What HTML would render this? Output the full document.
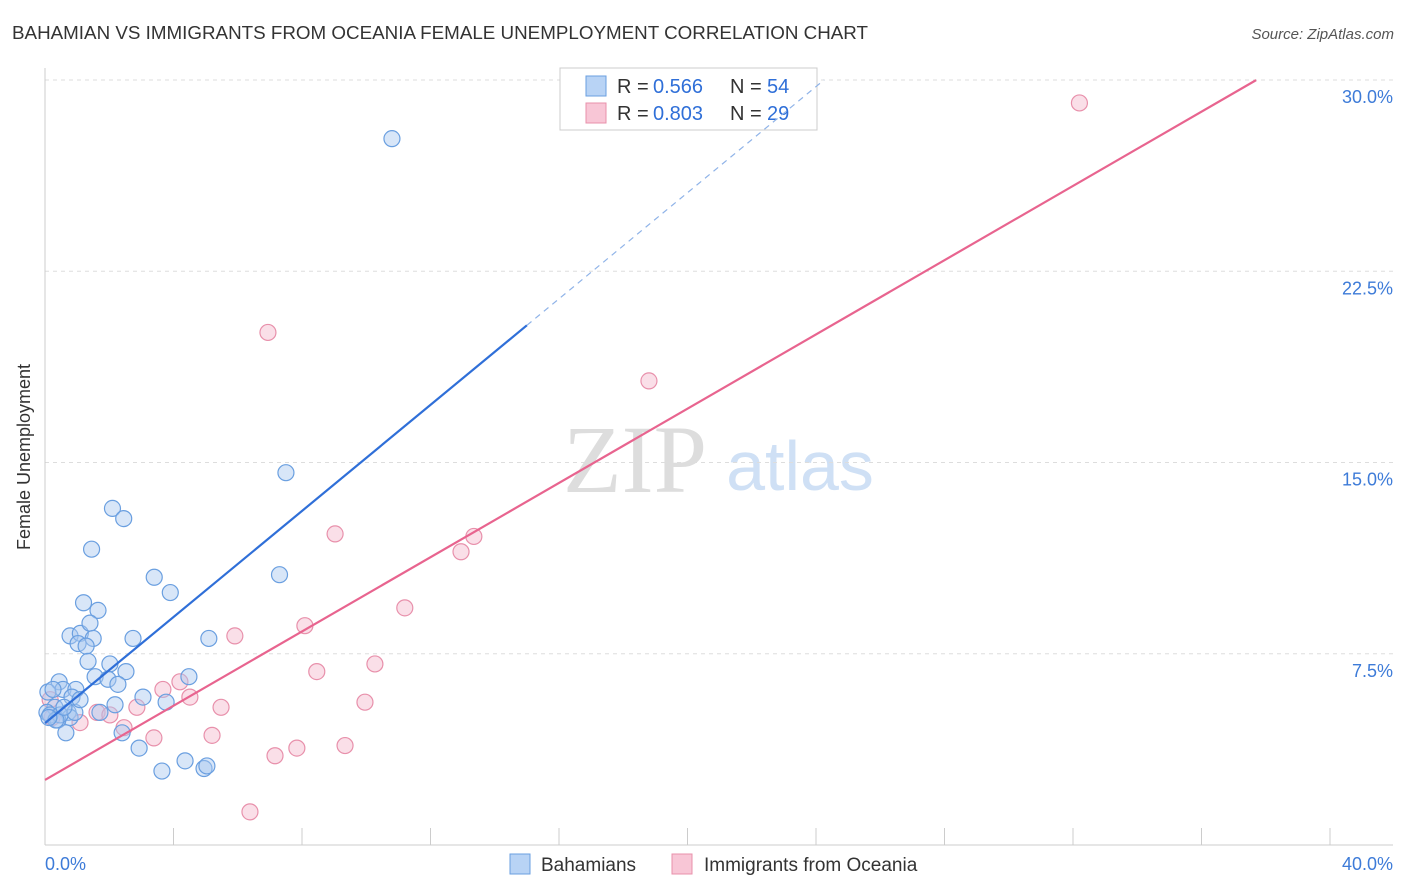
<!DOCTYPE html>
<html><head><meta charset="utf-8"><style>
body{margin:0;background:#fff;font-family:"Liberation Sans",sans-serif;}
#wrap{position:relative;width:1406px;height:892px;overflow:hidden;}
</style></head><body>
<div id="wrap">
<svg id="svg" width="1406" height="892" xmlns="http://www.w3.org/2000/svg">
<text x="12" y="39" font-size="18" fill="#333" textLength="856" lengthAdjust="spacingAndGlyphs">BAHAMIAN VS IMMIGRANTS FROM OCEANIA FEMALE UNEMPLOYMENT CORRELATION CHART</text>
<text x="1394" y="39" font-size="15" fill="#555" text-anchor="end" font-style="italic">Source: ZipAtlas.com</text>
<text x="30" y="457" font-size="18" fill="#333" text-anchor="middle" transform="rotate(-90 30 457)">Female Unemployment</text>
<text x="635" y="492" font-size="96" fill="#ddd" text-anchor="middle" font-family="Liberation Serif,serif">ZIP</text>
<text x="800" y="490" font-size="70" fill="#cfe0f5" text-anchor="middle">atlas</text>
<g id="grid"></g>
<g>
<rect x="560" y="68" width="257" height="62" fill="#fff" stroke="#ccc"/>
<rect x="586" y="76" width="20" height="20" fill="#b8d3f5" stroke="#6a9fe0"/>
<text x="617" y="93" font-size="20" fill="#333">R = </text><text x="653" y="93" font-size="20" fill="#2f6fd8">0.566</text>
<text x="730" y="93" font-size="20" fill="#333">N = </text><text x="767" y="93" font-size="20" fill="#2f6fd8">54</text>
<rect x="586" y="103" width="20" height="20" fill="#f8c6d6" stroke="#e890ab"/>
<text x="617" y="120" font-size="20" fill="#333">R = </text><text x="653" y="120" font-size="20" fill="#2f6fd8">0.803</text>
<text x="730" y="120" font-size="20" fill="#333">N = </text><text x="767" y="120" font-size="20" fill="#2f6fd8">29</text>
</g>
<g id="marks"></g>
<g>
<rect x="510" y="854" width="20" height="20" fill="#b8d3f5" stroke="#6a9fe0"/>
<text x="541" y="871" font-size="19" fill="#333">Bahamians</text>
<rect x="672" y="854" width="20" height="20" fill="#f8c6d6" stroke="#e890ab"/>
<text x="704" y="871" font-size="19" fill="#333">Immigrants from Oceania</text>
</g>
</svg></div>
<script>
const xTicks=[0,40];
const yTicks=[7.5,15,22.5,30];
const blueX=[10.8,7.5,2.1,2.45,1.45,3.4,7.3,3.9,1.2,1.65,0.78,1.1,1.4,1.5,2.74,5.1,1.03,1.28,1.34,2.02,2.52,1.56,4.48,1.96,0.44,0.56,0.96,0.09,2.27,3.05,3.77,2.18,0.31,0.72,0.06,0.16,0.78,0.4,0.47,0.93,2.4,0.65,2.93,3.64,4.36,4.95,5.04,0.25,0.84,1.71,0.34,0.59,0.12,1.09];
const blueY=[27.7,14.6,13.2,12.8,11.6,10.5,10.6,9.9,9.5,9.2,8.2,8.3,8.7,8.1,8.1,8.1,7.9,7.8,7.2,7.1,6.8,6.6,6.6,6.5,6.4,6.1,6.1,6.0,6.3,5.8,5.6,5.5,5.4,5.2,5.2,5.1,5.0,4.9,5.1,5.2,4.4,4.4,3.8,2.9,3.3,3.0,3.1,6.1,5.8,5.2,4.9,5.4,5.0,5.7];
const pinkX=[32.2,6.94,18.8,9.03,13.35,12.95,11.2,8.09,5.91,10.27,8.46,4.2,3.67,4.51,5.48,2.86,9.96,1.62,2.02,2.46,1.09,0.22,5.2,3.39,9.34,7.84,7.16,6.38,0.16];
const pinkY=[29.1,20.1,18.2,12.2,12.1,11.5,9.3,8.6,8.2,7.1,6.8,6.4,6.1,5.8,5.4,5.4,5.6,5.2,5.1,4.6,4.8,5.0,4.3,4.2,3.9,3.8,3.5,1.3,5.7];
const blueLine=[4.78,1.04,15.0];
const pinkLine=[2.55,0.728,37.7];
const X0=45,X1=1330,Y0=845,YT=80;
const sx=v=>X0+(v/40)*(X1-X0);
const sy=v=>Y0-(v/30)*(Y0-YT);
const NS="http://www.w3.org/2000/svg";
function mk(p,t,a){const e=document.createElementNS(NS,t);for(const k in a)e.setAttribute(k,a[k]);p.appendChild(e);return e;}
const grid=document.getElementById('grid'),marks=document.getElementById('marks');
yTicks.forEach(v=>{
 const l=mk(grid,'line',{x1:X0,x2:1393,y1:sy(v),y2:sy(v),stroke:'#ddd','stroke-dasharray':'4,4'});
 
 
 const t=mk(grid,'text',{x:1393,y:sy(v)+23,'font-size':18,fill:'#3d7bd8','text-anchor':'end'});t.textContent=v.toFixed(1)+'%';
 
 
});
mk(grid,'line',{x1:X0,x2:X0,y1:68,y2:Y0,stroke:'#ccc'});
mk(grid,'line',{x1:X0,x2:1393,y1:Y0,y2:Y0,stroke:'#ccc'});
for(let i=0;i<=10;i++){const x=sx(i*4);mk(grid,'line',{x1:x,x2:x,y1:828,y2:Y0,stroke:'#ccc'});}
xTicks.forEach((v,i)=>{const t=mk(grid,'text',{x:i?1393:45,y:870,'font-size':18,fill:'#3d7bd8','text-anchor':i?'end':'start'});t.textContent=v.toFixed(1)+'%';
 
 });
function dots(xs,ys,fill,stroke,name){xs.forEach((x,i)=>{const c=mk(marks,'circle',{cx:sx(x),cy:sy(ys[i]),r:8,fill:fill,'fill-opacity':0.45,stroke:stroke,'stroke-width':1.2});
 
 });}
dots(pinkX,pinkY,'#f5b8cb','#e890ab','pink-point');
dots(blueX,blueY,'#a9c8f0','#6a9fe0','blue-point');
const [b0,bs,be]=blueLine;
const bl=mk(marks,'line',{x1:sx(0),y1:sy(b0),x2:sx(be),y2:sy(b0+bs*be),stroke:'#2f6fd8','stroke-width':2.2});


const xe=(30-b0)/bs;
const bd=mk(marks,'line',{x1:sx(be),y1:sy(b0+bs*be),x2:sx(xe),y2:sy(30),stroke:'#8fb3e8','stroke-width':1.2,'stroke-dasharray':'6,5'});


const [p0,ps,pe]=pinkLine;
const pl=mk(marks,'line',{x1:sx(0),y1:sy(p0),x2:sx(pe),y2:sy(p0+ps*pe),stroke:'#e8648f','stroke-width':2.2});


</script>
</body></html>
